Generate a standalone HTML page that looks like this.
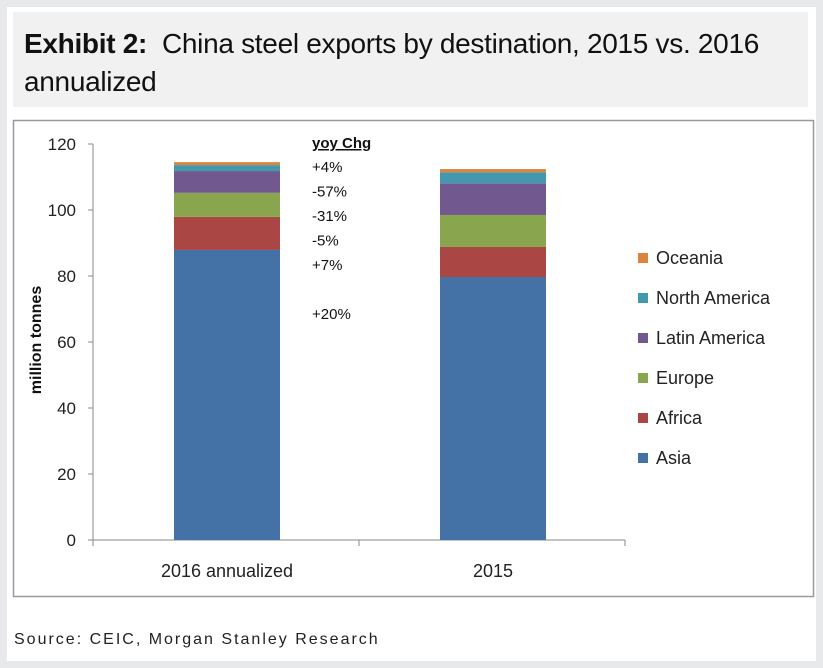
<!DOCTYPE html>
<html><head><meta charset="utf-8"><style>
body{margin:0;width:823px;height:668px;background:#e8e9eb;font-family:"Liberation Sans",sans-serif;overflow:hidden}
#panel{position:absolute;left:7px;top:7px;width:809px;height:654px;background:#fff}
#title{position:absolute;left:13px;top:12px;width:795px;height:95px;background:#f1f1f1}
#title div{position:absolute;left:11px;top:13px;font-size:28px;line-height:38px;color:#111;letter-spacing:-0.3px}
#src{position:absolute;left:14px;top:631px;font-size:16px;color:#222;letter-spacing:2px}
</style></head><body>
<div id="panel"></div>
<div id="title"><div><b>Exhibit 2:</b>&nbsp; China steel exports by destination, 2015 vs. 2016<br>annualized</div></div>
<svg id="chart" width="823" height="668" style="position:absolute;left:0;top:0"></svg>
<div id="src">Source: CEIC, Morgan Stanley Research</div>
<script>
const categories=["2016 annualized","2015"];
const seriesNames=["Asia","Africa","Europe","Latin America","North America","Oceania"];
const colors=["#4472a6","#aa4644","#89a54e","#71588f","#4198af","#db843d"];
const asia=[87.9,79.7];
const africa=[10.0,9.1];
const europe=[7.3,9.7];
const latin=[6.6,9.6];
const northAmerica=[1.8,3.3];
const oceania=[0.9,1.0];
const yTicks=[0,20,40,60,80,100,120];
const yoyLabels=["+4%","-57%","-31%","-5%","+7%","","+20%"];
const series=[asia,africa,europe,latin,northAmerica,oceania];
const NS="http://www.w3.org/2000/svg";
const svg=document.getElementById('chart');
function y(v){return 540-v*3.3;}
function x(i){return 93+i*266+81;}
function el(t,a,txt){const e=document.createElementNS(NS,t);for(const k in a)e.setAttribute(k,a[k]);if(txt!==undefined)e.textContent=txt;svg.appendChild(e);return e;}
const frame=el('rect',{x:13.5,y:120.5,width:800,height:476,fill:'none',stroke:'#999','stroke-width':1.5});


const ya=el('line',{x1:93,y1:144,x2:93,y2:540,stroke:'#888'});


const xa=el('line',{x1:93,y1:540,x2:625,y2:540,stroke:'#888'});


[93,359,625].forEach(px=>{el('line',{x1:px,y1:540,x2:px,y2:546,stroke:'#888'});});
yTicks.forEach(t=>{
 el('line',{x1:88,y1:y(t),x2:93,y2:y(t),stroke:'#888'});
 const l=el('text',{x:76,y:y(t)+6,'text-anchor':'end','font-size':17,fill:'#222'},t);
 
 
});
const yt=el('text',{x:0,y:0,transform:'translate(41,340) rotate(-90)','text-anchor':'middle','font-size':16,'font-weight':'bold',fill:'#111'},'million tonnes');


categories.forEach((c,i)=>{
 let base=0;
 series.forEach((s,j)=>{
  const r=el('rect',{x:x(i),y:y(base+s[i]),width:106,height:y(base)-y(base+s[i]),fill:colors[j]});
  
  
  base+=s[i];
 });
 const l=el('text',{x:x(i)+53,y:577,'text-anchor':'middle','font-size':18,fill:'#222'},c);
 
 
});
const yh=el('text',{x:312,y:148,'font-size':15,'font-weight':'bold','text-decoration':'underline',fill:'#111'},'yoy Chg');


yoyLabels.forEach((t,i)=>{
 if(!t)return;
 const l=el('text',{x:312,y:172+i*24.5,'font-size':15,fill:'#111'},t);
 
 
});
for(let j=5;j>=0;j--){
 const k=5-j, ly=258+k*40;
 const g=el('rect',{x:638,y:ly-5,width:10,height:10,fill:colors[j]});
 
 
 const l=el('text',{x:656,y:ly+6,'font-size':18,fill:'#222'},seriesNames[j]);
 
 
}
</script>
</body></html>
